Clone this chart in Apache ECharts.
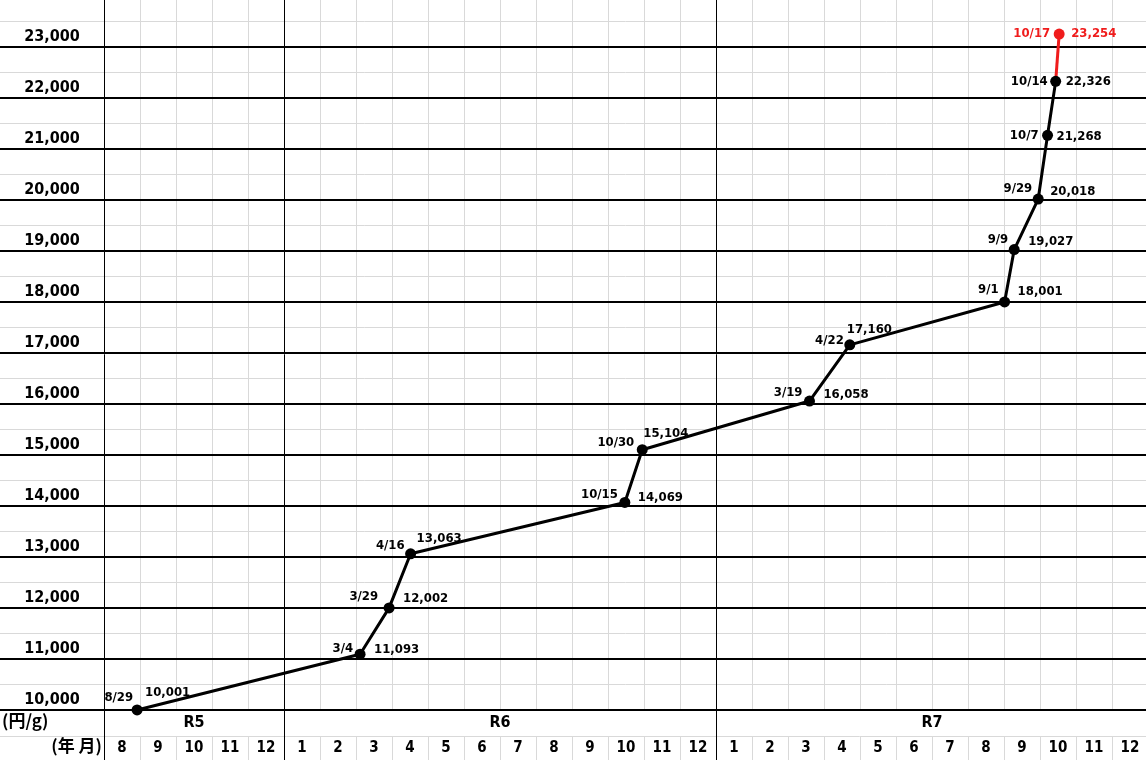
<!DOCTYPE html>
<html>
<head>
<meta charset="utf-8">
<script src="https://cdn.jsdelivr.net/npm/echarts@6/dist/echarts.min.js"></script>
<style>
html,body{margin:0;padding:0;background:#fff;}
#chart{width:1146px;height:760px;}
</style>
</head>
<body>
<div id="chart"></div>
<script>
// ---- data ----
const eraNames = ['R5', 'R6', 'R7'];
const eraYears = [2023, 2024, 2025];
const eraMonths = [
  [8, 9, 10, 11, 12],
  [1, 2, 3, 4, 5, 6, 7, 8, 9, 10, 11, 12],
  [1, 2, 3, 4, 5, 6, 7, 8, 9, 10, 11, 12]
];
const pointEra   = ['R5', 'R6', 'R6', 'R6', 'R6', 'R6', 'R7', 'R7', 'R7', 'R7', 'R7', 'R7', 'R7', 'R7'];
const pointMonth = [8, 3, 3, 4, 10, 10, 3, 4, 9, 9, 9, 10, 10, 10];
const pointDay   = [29, 4, 29, 16, 15, 30, 19, 22, 1, 9, 29, 7, 14, 17];
const prices     = [10001, 11093, 12002, 13063, 14069, 15104, 16058, 17160, 18001, 19027, 20018, 21268, 22326, 23254];
const yMin = 10000, yMax = 24000;
const yLabelStep = 1000, yMinorStep = 500;
const yUnit = '(円/g)';
const xUnit = '(年 月)';

// ---- presentation ----
const FONT = '"Liberation Sans Narrow","DejaVu Sans Condensed","Roboto Condensed",sans-serif';
const CJK = '"Noto Sans CJK JP",sans-serif';
const LIGHT = '#d9d9d9';
const RED = '#f01c1c';
// label nudges per point (style only): [dateGap, dateLift, valueGap, valueLift]
const labelNudge = [
  [4, -12, 8, -17], [7, -6, 14, -5], [11, -11, 14, -9], [6, -8, 6, -15],
  [7, -8, 13, -5], [8, -7, 1, -16], [7, -8, 14, -6], [6, -4, -3, -15],
  [6, -12, 13, -10], [6, -10, 14, -8], [6, -10, 12, -7], [9, 0, 9, 1],
  [8, 0, 10, 0], [9, 0, 12, 0]
];

// ---- derived ----
const eraStart = [];
let acc = 0;
eraMonths.forEach(m => { eraStart.push(acc); acc += m.length; });
const totalMonths = acc;
const monthLabels = [].concat(...eraMonths);
const monthCenters = monthLabels.map((_, i) => i + 0.5);
const eraCenters = eraMonths.map((m, i) => eraStart[i] + m.length / 2);
const eraBoundaries = eraStart.concat([totalMonths]);

function xOf(i) {
  const e = eraNames.indexOf(pointEra[i]);
  const m = pointMonth[i];
  const dim = new Date(eraYears[e], m, 0).getDate();
  return eraStart[e] + eraMonths[e].indexOf(m) + (pointDay[i] - 0.5) / dim;
}
const fmt = v => v.toLocaleString('en-US');
const last = prices.length - 1;
const isRed = i => i === last;

const valuePts = prices.map((p, i) => ({
  name: pointMonth[i] + '/' + pointDay[i],
  value: [xOf(i), p],
  label: { offset: [labelNudge[i][2], labelNudge[i][3]] }
}));
const datePts = prices.map((p, i) => ({
  name: pointMonth[i] + '/' + pointDay[i],
  value: [xOf(i), p],
  label: { offset: [-labelNudge[i][0], labelNudge[i][1]], color: isRed(i) ? RED : '#000' }
}));

const vColorsPlot = [];
const vColorsEra = [];
for (let i = 0; i <= totalMonths; i++) {
  const major = eraBoundaries.indexOf(i) >= 0;
  vColorsPlot.push(major ? '#000' : LIGHT);
  vColorsEra.push(major ? '#000' : 'rgba(0,0,0,0)');
}

const ptLabel = (color, align, fmtFn) => ({
  show: true, position: 'inside', align: align, verticalAlign: 'middle',
  color: color, fontFamily: FONT, fontWeight: 'bold', fontSize: 13,
  formatter: fmtFn
});

const hiddenAxis = { show: true, axisLine: { show: false }, axisTick: { show: false }, axisLabel: { show: false }, splitLine: { show: false } };
const G = { outerBoundsMode: 'none', containLabel: false };

const option = {
  animation: false,
  backgroundColor: '#fff',
  textStyle: { fontFamily: FONT, fontWeight: 'bold', color: '#000' },
  grid: [
    Object.assign({ left: 104, right: -2, top: -4, bottom: 50 }, G),   // 0 plot
    Object.assign({ left: 0, width: 104, top: -4, bottom: 50 }, G),    // 1 left label column
    Object.assign({ left: 104, right: -2, top: 710, height: 26 }, G),  // 2 era row
    Object.assign({ left: 104, right: -2, top: 736, bottom: 0 }, G),   // 3 month row
    Object.assign({ left: 0, right: 0, top: 736, bottom: 0 }, G)       // 4 divider between rows
  ],
  xAxis: [
    { gridIndex: 0, type: 'value', min: 0, max: totalMonths, interval: 1, z: 0,
      axisLine: { show: false }, axisTick: { show: false },
      splitLine: { show: true, lineStyle: { color: vColorsPlot, width: 1 } },
      axisLabel: { show: true, customValues: monthCenters, margin: 31, fontSize: 15, color: '#000',
        fontFamily: FONT, fontWeight: 'bold',
        formatter: v => String(monthLabels[Math.floor(v)]) } },
    { gridIndex: 0, type: 'value', min: 0, max: totalMonths, position: 'bottom',
      axisLine: { show: false }, axisTick: { show: false }, splitLine: { show: false },
      axisLabel: { show: true, customValues: eraCenters, margin: 5, fontSize: 16, color: '#000',
        fontFamily: FONT, fontWeight: 'bold',
        formatter: v => eraNames[eraCenters.indexOf(v)] } },
    Object.assign({ gridIndex: 1, type: 'value', min: 0, max: 1 }, hiddenAxis),
    { gridIndex: 2, type: 'value', min: 0, max: totalMonths, interval: 1,
      axisLine: { show: false }, axisTick: { show: false }, axisLabel: { show: false },
      splitLine: { show: true, lineStyle: { color: vColorsEra, width: 1 } } },
    { gridIndex: 3, type: 'value', min: 0, max: totalMonths, interval: 1,
      axisLine: { show: false }, axisTick: { show: false }, axisLabel: { show: false },
      splitLine: { show: true, lineStyle: { color: vColorsPlot, width: 1 } } },
    Object.assign({ gridIndex: 4, type: 'value', min: 0, max: 1 }, hiddenAxis)
  ],
  yAxis: [
    { gridIndex: 0, type: 'value', min: yMin, max: yMax, interval: yMinorStep, position: 'left', z: 0,
      axisLine: { show: false }, axisTick: { show: false }, axisLabel: { show: false },
      splitLine: { show: true, lineStyle: { color: LIGHT, width: 1 } } },
    { gridIndex: 0, type: 'value', min: yMin, max: yMax, interval: yLabelStep, position: 'left', z: 1,
      axisLine: { show: false }, axisTick: { show: false },
      splitLine: { show: true, lineStyle: { color: '#000', width: 2 } },
      axisLabel: { show: true, margin: 52, align: 'center', verticalAlign: 'bottom', padding: [0, 0, 2, 0],
        fontSize: 16, color: '#000', fontFamily: FONT, fontWeight: 'bold', showMaxLabel: false,
        formatter: v => fmt(v) } },
    { gridIndex: 1, type: 'value', min: yMin, max: yMax, interval: yMinorStep, z: 0,
      axisLine: { show: false }, axisTick: { show: false }, axisLabel: { show: false },
      splitLine: { show: true, lineStyle: { color: LIGHT, width: 1 } } },
    { gridIndex: 1, type: 'value', min: yMin, max: yMax, interval: yLabelStep, z: 1,
      axisLine: { show: false }, axisTick: { show: false }, axisLabel: { show: false },
      splitLine: { show: true, lineStyle: { color: '#000', width: 2 } } },
    Object.assign({ gridIndex: 2, type: 'value', min: 0, max: 1 }, hiddenAxis),
    Object.assign({ gridIndex: 3, type: 'value', min: 0, max: 1 }, hiddenAxis),
    { gridIndex: 4, type: 'value', min: 0, max: 1, interval: 1,
      axisLine: { show: false }, axisTick: { show: false }, axisLabel: { show: false },
      splitLine: { show: true, lineStyle: { color: LIGHT, width: 1 } } }
  ],
  graphic: [
    { type: 'text', left: 2, top: 712, style: { text: yUnit, font: 'bold 17px ' + CJK, fill: '#000' } },
    { type: 'text', right: 1146 - 102, top: 737, style: { text: xUnit, font: 'bold 17px ' + CJK, fill: '#000', textAlign: 'right' } }
  ],
  series: [
    { type: 'line', xAxisIndex: 0, yAxisIndex: 1, z: 3,
      data: valuePts.slice(0, last),
      symbol: 'circle', symbolSize: 11,
      lineStyle: { color: '#000', width: 3 },
      itemStyle: { color: '#000' },
      label: ptLabel('#000', 'left', p => fmt(p.value[1])) },
    { type: 'line', xAxisIndex: 0, yAxisIndex: 1, z: 2,
      data: [
        Object.assign({}, valuePts[last - 1], { symbolSize: 0, label: { show: false } }),
        valuePts[last]
      ],
      symbol: 'circle', symbolSize: 11,
      lineStyle: { color: RED, width: 3 },
      itemStyle: { color: RED },
      label: ptLabel(RED, 'left', p => fmt(p.value[1])) },
    { type: 'line', xAxisIndex: 0, yAxisIndex: 1, z: 4,
      data: datePts,
      symbol: 'circle', symbolSize: 0, showAllSymbol: true,
      lineStyle: { width: 0, opacity: 0 },
      itemStyle: { color: 'rgba(0,0,0,0)' },
      label: ptLabel('#000', 'right', p => p.name) }
  ]
};

const chart = echarts.init(document.getElementById('chart'), null, { renderer: 'canvas' });
chart.setOption(option);
</script>
</body>
</html>
